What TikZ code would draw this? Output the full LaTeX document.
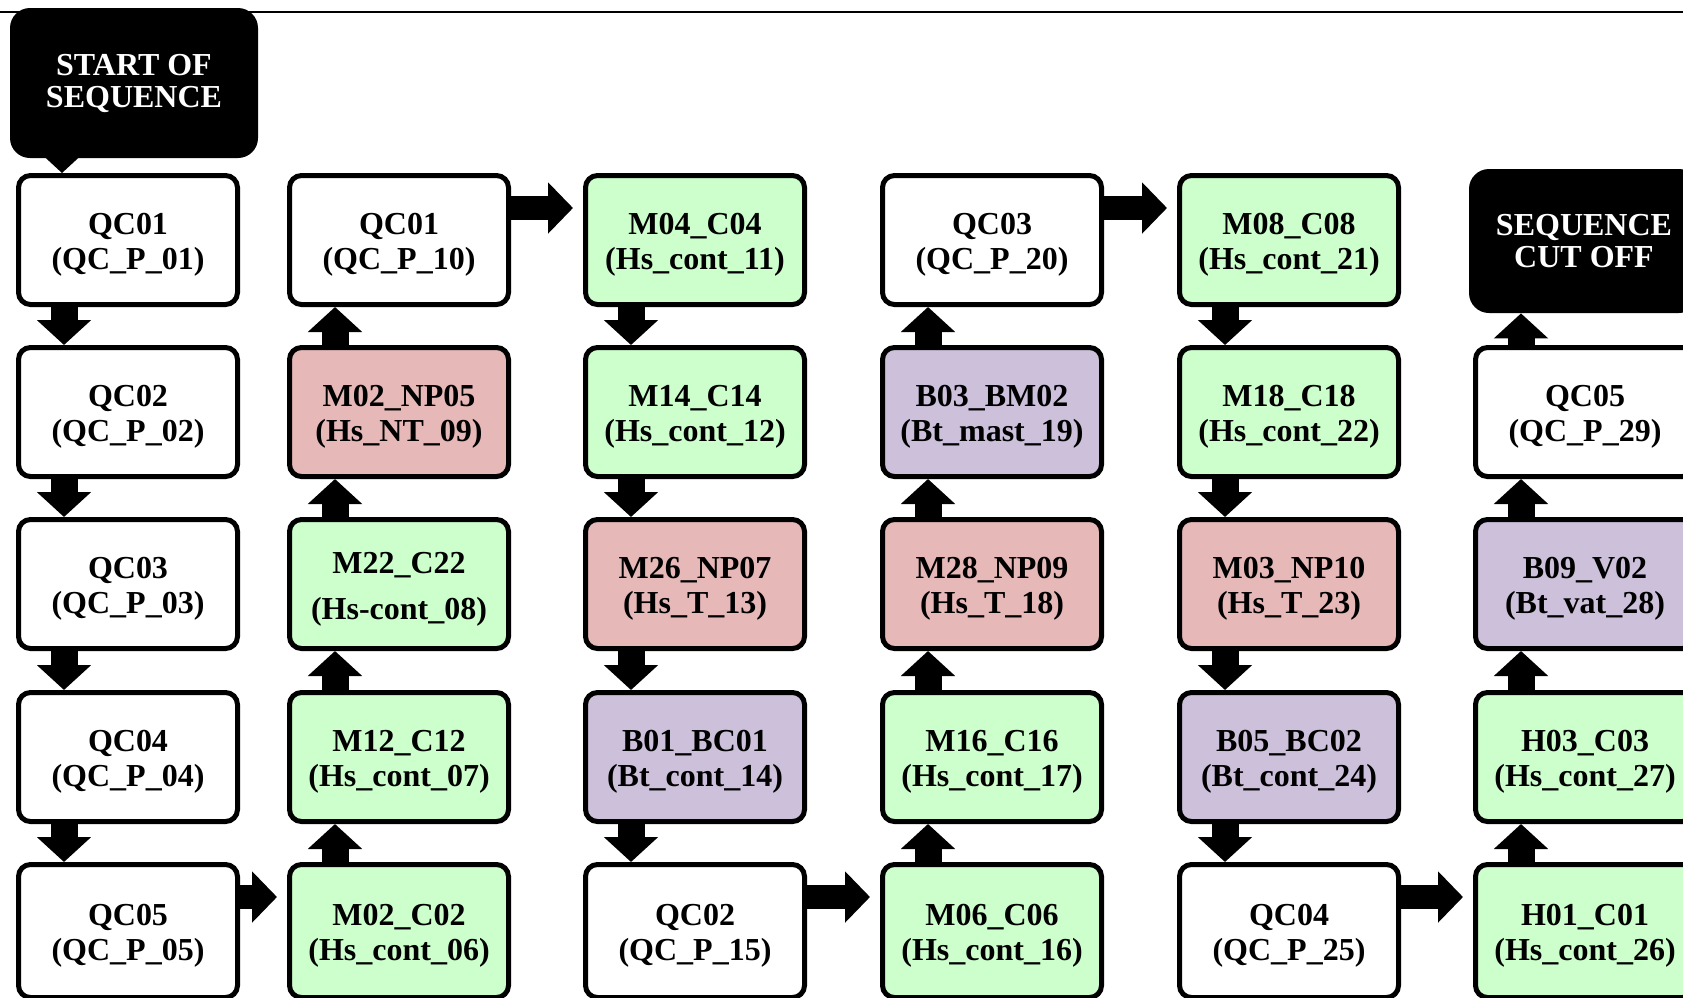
\documentclass[tikz,border=0pt]{standalone}
\usepackage{fontspec}
\setmainfont{Liberation Serif}
\usetikzlibrary{arrows.meta,calc}
\definecolor{gbox}{HTML}{CCFFCC}
\definecolor{rbox}{HTML}{E6B8B7}
\definecolor{pbox}{HTML}{CCC0DA}
\newcommand{\tstrut}{\rule{0pt}{15.5pt}}
\tikzset{
  box/.style={draw, line width=2.5pt, rounded corners=6pt, minimum width=109.5pt,
    minimum height=64.5pt, inner sep=0pt, align=center, fill=white,
    font=\bfseries\fontsize{16pt}{17.3pt}\selectfont},
  wb/.style={box},
  gb/.style={box, fill=gbox},
  rb/.style={box, fill=rbox},
  pb/.style={box, fill=pbox},
  low/.style={minimum height=66.5pt},
  callout/.style={fill=black, text=white, rounded corners=10pt, align=center,
    inner sep=0pt, font=\bfseries\fontsize{16pt}{16pt}\selectfont},
  varr/.style={line width=13.5pt, -{Triangle[width=26.5pt,length=12.5pt]}},
  harr/.style={line width=12pt, -{Triangle[width=25pt,length=12.5pt]}},
}
\begin{document}
\begin{tikzpicture}[x=0.5pt,y=-0.5pt]
\useasboundingbox (0,0) rectangle (1683,997);
\clip (0,0) rectangle (1683,997);
\fill[white] (0,0) rectangle (1683,997);
\draw[line width=1pt] (0,12) -- (1683,12);
% column 1
\node[wb] (a1) at (128,240) {\tstrut QC01\\(QC\_P\_01)};
\node[wb] (a2) at (128,412) {\tstrut QC02\\(QC\_P\_02)};
\node[wb] (a3) at (128,584) {\tstrut QC03\\(QC\_P\_03)};
\node[wb] (a4) at (128,757) {\tstrut QC04\\(QC\_P\_04)};
\node[wb, low] (a5) at (128,931) {\tstrut QC05\\(QC\_P\_05)};
% column 2
\node[wb] (b1) at (399,240) {\tstrut QC01\\(QC\_P\_10)};
\node[rb] (b2) at (399,412) {\tstrut M02\_NP05\\(Hs\_NT\_09)};
\node[gb, font=\bfseries\fontsize{16pt}{23pt}\selectfont] (b3) at (399,584) {\tstrut M22\_C22\\(Hs-cont\_08)};
\node[gb] (b4) at (399,757) {\tstrut M12\_C12\\(Hs\_cont\_07)};
\node[gb, low] (b5) at (399,931) {\tstrut M02\_C02\\(Hs\_cont\_06)};
% column 3
\node[gb] (c1) at (695,240) {\tstrut M04\_C04\\(Hs\_cont\_11)};
\node[gb] (c2) at (695,412) {\tstrut M14\_C14\\(Hs\_cont\_12)};
\node[rb] (c3) at (695,584) {\tstrut M26\_NP07\\(Hs\_T\_13)};
\node[pb] (c4) at (695,757) {\tstrut B01\_BC01\\(Bt\_cont\_14)};
\node[wb, low] (c5) at (695,931) {\tstrut QC02\\(QC\_P\_15)};
% column 4
\node[wb] (d1) at (992,240) {\tstrut QC03\\(QC\_P\_20)};
\node[pb] (d2) at (992,412) {\tstrut B03\_BM02\\(Bt\_mast\_19)};
\node[rb] (d3) at (992,584) {\tstrut M28\_NP09\\(Hs\_T\_18)};
\node[gb] (d4) at (992,757) {\tstrut M16\_C16\\(Hs\_cont\_17)};
\node[gb, low] (d5) at (992,931) {\tstrut M06\_C06\\(Hs\_cont\_16)};
% column 5
\node[gb] (e1) at (1289,240) {\tstrut M08\_C08\\(Hs\_cont\_21)};
\node[gb] (e2) at (1289,412) {\tstrut M18\_C18\\(Hs\_cont\_22)};
\node[rb] (e3) at (1289,584) {\tstrut M03\_NP10\\(Hs\_T\_23)};
\node[pb] (e4) at (1289,757) {\tstrut B05\_BC02\\(Bt\_cont\_24)};
\node[wb, low] (e5) at (1289,931) {\tstrut QC04\\(QC\_P\_25)};
% column 6
\node[callout, minimum width=115pt, minimum height=72pt] (f1) at (1584,241) {SEQUENCE\\CUT OFF};
\node[wb] (f2) at (1585,412) {\tstrut QC05\\(QC\_P\_29)};
\node[pb] (f3) at (1585,584) {\tstrut B09\_V02\\(Bt\_vat\_28)};
\node[gb] (f4) at (1585,757) {\tstrut H03\_C03\\(Hs\_cont\_27)};
\node[gb, low] (f5) at (1585,931) {\tstrut H01\_C01\\(Hs\_cont\_26)};
% start callout
\node[callout, minimum width=124pt, minimum height=75pt] (start) at (134,83) {START OF\\SEQUENCE};
\coordinate (tip) at ([xshift=-33pt]a1.north);
\fill ($(start.south -| tip)+(-9pt,1pt)$) -- (tip) -- ($(start.south -| tip)+(9pt,1pt)$) -- cycle;
% down arrows
\foreach \p/\q in {a1/a2,a2/a3,a3/a4,a4/a5,c1/c2,c2/c3,c3/c4,c4/c5,e1/e2,e2/e3,e3/e4,e4/e5}
  \draw[varr] ([xshift=-32pt]\p.south) -- ([xshift=-32pt]\q.north);
% up arrows
\foreach \p/\q in {b5/b4,b4/b3,b3/b2,b2/b1,d5/d4,d4/d3,d3/d2,d2/d1,f5/f4,f4/f3,f3/f2,f2/f1}
  \draw[varr] ([xshift=-32pt]\p.north) -- ([xshift=-32pt]\p.north |- \q.south);
% horizontal arrows
\foreach \p/\q in {a5/b5,b1/c1,c5/d5,d1/e1,e5/f5}
  \draw[harr] ($(\p.north -| \p.east)+(0,-17.5pt)$) -- ($(\p.north -| \q.west)+(-5pt,-17.5pt)$);
\end{tikzpicture}
\end{document}
